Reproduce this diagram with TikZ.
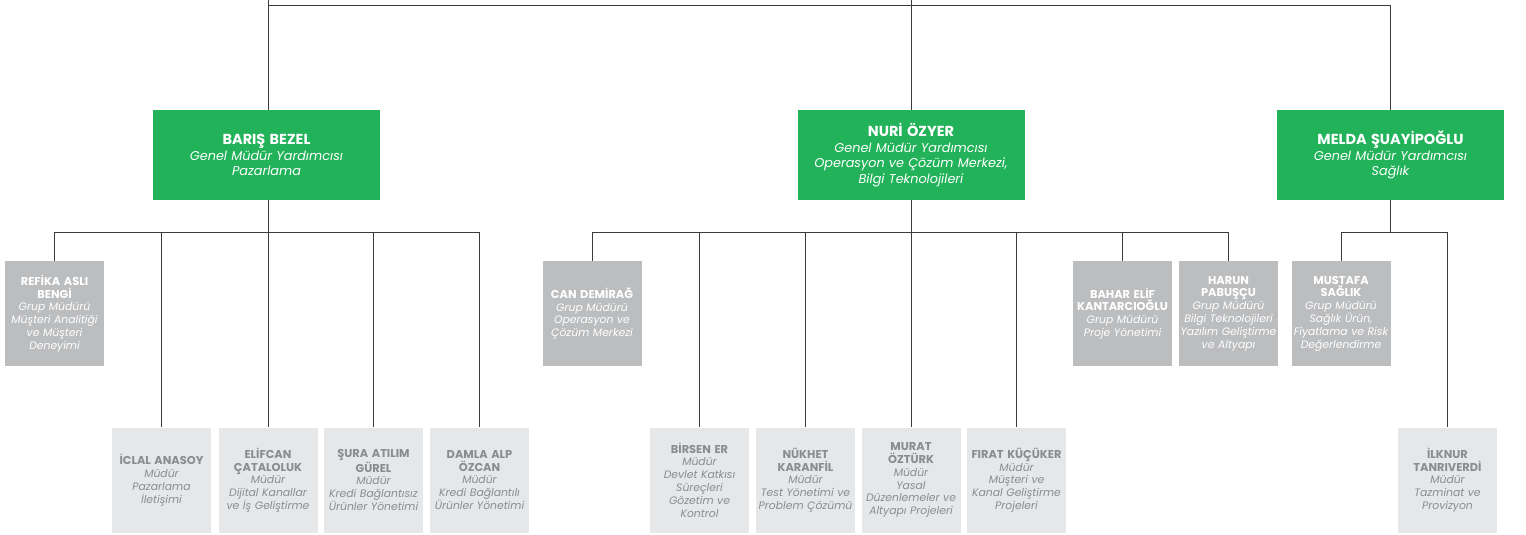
\documentclass[tikz,border=0pt]{standalone}
\usepackage{fontspec}
\setmainfont{Poppins}
\usepackage{xcolor}
\definecolor{gmygreen}{HTML}{22B35A}
\definecolor{grupgray}{HTML}{BCBDBF}
\definecolor{mudurgray}{HTML}{E6E7E8}
\definecolor{mudurtext}{HTML}{8A8C8E}
\definecolor{linegray}{HTML}{3A3A3A}
\newcommand{\gmyname}[1]{{\upshape\bfseries\fontsize{14.5}{15.5}\selectfont #1}}
\newcommand{\boxname}[1]{{\upshape\bfseries\fontsize{11.4}{12.8}\selectfont #1}}

\begin{document}
\begin{tikzpicture}[x=1pt,y=-1pt,
    line/.style = {draw=linegray, line width=0.8pt},
    gmy/.style = {fill=gmygreen, text=white, inner sep=0pt,
        minimum width=227pt, minimum height=90pt, text width=226pt, align=center,
        font=\fontsize{12.8}{15.5}\selectfont\itshape},
    grup/.style = {fill=grupgray, text=white, inner sep=0pt,
        minimum width=99pt, minimum height=105pt, text width=99pt, align=center,
        font=\fontsize{10.8}{12.8}\selectfont\itshape},
    mudur/.style = {grup, fill=mudurgray, text=mudurtext}]

\useasboundingbox (0,0) rectangle (1526,535);

% Genel mudur yardimcilari
\node[gmy] (baris) at (266.5,155) {\gmyname{BARIŞ BEZEL}\\Genel Müdür Yardımcısı\\Pazarlama};
\node[gmy] (nuri) at (911,155) {\gmyname{NURİ ÖZYER}\\Genel Müdür Yardımcısı\\Operasyon ve Çözüm Merkezi,\\Bilgi Teknolojileri};
\node[gmy] (melda) at (1390.5,155) {\gmyname{MELDA ŞUAYİPOĞLU}\\Genel Müdür Yardımcısı\\Sağlık};

% Top lines
\coordinate (edge) at (0,0);
\coordinate (topl) at (268,5);
\coordinate (topr) at (1390.5,5);
\draw[line] (topl) -- (topr) -- (melda.north);
\draw[line] (topl |- edge) -- (baris.north -| topl);
\draw[line] (nuri.north |- edge) -- (nuri.north);

% Pazarlama
\node[grup] (refika) at (54.5,313.5) {\boxname{REFİKA ASLI\\BENGİ}\\Grup Müdürü\\Müşteri Analitiği\\ve Müşteri\\Deneyimi};
\node[mudur] (iclal) at (161.5,480) {\boxname{İCLAL ANASOY}\\Müdür\\Pazarlama\\İletişimi};
\node[mudur] (elifcan) at (268,480) {\boxname{ELİFCAN\\ÇATALOLUK}\\Müdür\\Dijital Kanallar\\ve İş Geliştirme};
\node[mudur] (sura) at (373.5,480) {\boxname{ŞURA ATILIM\\GÜREL}\\Müdür\\Kredi Bağlantısız\\Ürünler Yönetimi};
\node[mudur] (damla) at (479.5,480) {\boxname{DAMLA ALP\\ÖZCAN}\\Müdür\\Kredi Bağlantılı\\Ürünler Yönetimi};

\coordinate (pbus) at (268,232);
\draw[line] (baris.south -| pbus) -- (pbus);
\foreach \n in {refika,iclal,elifcan,sura,damla}
    \draw[line] (pbus) -| (\n.north);

% Operasyon ve bilgi teknolojileri
\node[grup] (can) at (592,313.5) {\boxname{CAN DEMİRAĞ}\\Grup Müdürü\\Operasyon ve\\Çözüm Merkezi};
\node[mudur] (birsen) at (699.5,480) {\boxname{BİRSEN ER}\\Müdür\\Devlet Katkısı\\Süreçleri\\Gözetim ve\\Kontrol};
\node[mudur] (nukhet) at (805.5,480) {\boxname{NÜKHET\\KARANFİL}\\Müdür\\Test Yönetimi ve\\Problem Çözümü};
\node[mudur] (murat) at (911,480) {\boxname{MURAT\\ÖZTÜRK}\\Müdür\\Yasal\\Düzenlemeler ve\\Altyapı Projeleri};
\node[mudur] (firat) at (1016.5,480) {\boxname{FIRAT KÜÇÜKER}\\Müdür\\Müşteri ve\\Kanal Geliştirme\\Projeleri};
\node[grup] (bahar) at (1122.5,313.5) {\boxname{BAHAR ELİF\\KANTARCIOĞLU}\\Grup Müdürü\\Proje Yönetimi};
\node[grup] (harun) at (1228.5,313.5) {\boxname{HARUN\\PABUŞÇU}\\Grup Müdürü\\Bilgi Teknolojileri\\Yazılım Geliştirme\\ve Altyapı};

\coordinate (obus) at (911,232);
\draw[line] (nuri) -- (obus);
\foreach \n in {can,birsen,nukhet,murat,firat,bahar,harun}
    \draw[line] (obus) -| (\n.north);

% Saglik
\node[grup] (mustafa) at (1341,313.5) {\boxname{MUSTAFA\\SAĞLIK}\\Grup Müdürü\\Sağlık Ürün,\\Fiyatlama ve Risk\\Değerlendirme};
\node[mudur] (ilknur) at (1447.5,480) {\boxname{İLKNUR\\TANRIVERDİ}\\Müdür\\Tazminat ve\\Provizyon};

\coordinate (sbus) at (1390.5,232);
\draw[line] (melda) -- (sbus);
\foreach \n in {mustafa,ilknur}
    \draw[line] (sbus) -| (\n.north);
\end{tikzpicture}
\end{document}
